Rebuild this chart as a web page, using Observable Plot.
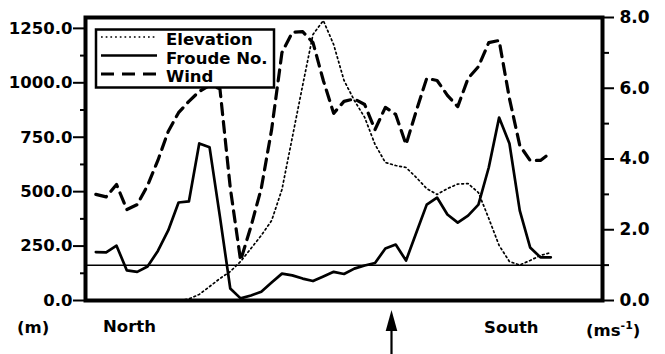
<!DOCTYPE html>
<html><head><meta charset="utf-8">
<script src="https://cdn.jsdelivr.net/npm/d3@7"></script>
<script src="https://cdn.jsdelivr.net/npm/@observablehq/plot@0.6"></script>
<style>
html,body{margin:0;padding:0;background:#fff;}
</style>
</head><body><div id="chart"></div>
<script>
// Elevation (m), left axis
const elevation = [0,0,0,0,0,0,0,0,0,7,28,64,101,133,179,239,299,367,510,749,988,1222,1286,1176,1011,919,841,717,634,620,611,565,514,487,514,535,537,496,377,253,179,163,184,207,220];
// Froude number, right axis scale
const froude = [1.37,1.36,1.55,0.85,0.81,0.96,1.40,1.98,2.77,2.80,4.44,4.33,2.37,0.34,0.06,0.14,0.25,0.51,0.76,0.71,0.62,0.55,0.68,0.81,0.75,0.90,0.99,1.06,1.47,1.58,1.13,1.92,2.71,2.91,2.43,2.20,2.40,2.71,3.76,5.17,4.44,2.54,1.50,1.22,1.22];
// Wind (m s-1), right axis
const wind = [3.00,2.93,3.28,2.57,2.71,3.25,3.96,4.78,5.31,5.63,5.91,6.08,5.99,3.19,1.13,2.09,3.17,4.83,7.01,7.58,7.60,7.29,6.22,5.29,5.63,5.70,5.54,4.83,5.46,5.26,4.41,5.37,6.28,6.22,5.80,5.48,6.28,6.61,7.29,7.35,5.71,4.38,3.96,3.96,4.18];

const leftTicks = [0,250,500,750,1000,1250];
const leftMinor = [125,375,625,875,1125];
const rightTicks = [0,2,4,6,8];
const rightMinor = [1,3,5,7];
const criticalFroude = [1];
const seriesNames = ["Elevation","Froude No.","Wind"];
const directionLabels = ["North","South"];
const leftUnit = "(m)";
const leftMax = 1300, rightMax = 8;
const k = leftMax / rightMax;

const rows = elevation.map((e, i) => ({i, elevation: e, froude: froude[i], wind: wind[i]}));
const blank = () => "";

const chart = Plot.plot({
  width: 665, height: 354,
  marginLeft: 85, marginRight: 63, marginTop: 17, marginBottom: 54,
  x: {domain: [-1, 49], axis: null},
  y: {domain: [0, leftMax], axis: null},
  style: {fontFamily: "DejaVu Sans", fontSize: "17px", color: "#000", background: "#fff"},
  marks: [
    Plot.ruleY(criticalFroude, {y: d => d * k, stroke: "#000", strokeWidth: 1.5}),
    Plot.line(rows, {x: "i", y: "elevation", stroke: "#000", strokeWidth: 1.7, strokeDasharray: "1.7,3"}),
    Plot.line(rows, {x: "i", y: d => d.froude * k, stroke: "#000", strokeWidth: 2.7}),
    Plot.line(rows, {x: "i", y: d => d.wind * k, stroke: "#000", strokeWidth: 3.2, strokeDasharray: "11,7"}),
    Plot.frame({stroke: "#000", strokeWidth: 4}),
    Plot.axisY({ticks: leftTicks, tickFormat: d3.format(".1f"), anchor: "left", tickSize: 12, tickPadding: 1, label: null, strokeWidth: 2, fontSize: 16.5, fontWeight: "bold"}),
    Plot.axisY({ticks: leftMinor, tickFormat: blank, anchor: "left", tickSize: 5, label: null, strokeWidth: 2}),
    Plot.axisY({ticks: rightTicks.map(v => v * k), tickFormat: d => (d / k).toFixed(1), anchor: "right", tickSize: 11, tickPadding: 6, label: null, strokeWidth: 2, fontSize: 17, fontWeight: "bold"}),
    Plot.axisY({ticks: rightMinor.map(v => v * k), tickFormat: blank, anchor: "right", tickSize: 6, label: null, strokeWidth: 2})
  ]
});
document.getElementById("chart").append(chart);

const svg = d3.select(chart);
const font = "DejaVu Sans";
// Legend
const lg = svg.append("g").attr("text-anchor", "start");
lg.append("rect").attr("x", 96).attr("y", 29.5).attr("width", 178).attr("height", 58)
  .attr("fill", "#fff").attr("stroke", "#000").attr("stroke-width", 2.5);
const legendStyles = [
  {dash: "1.7,3", w: 1.7},
  {dash: null, w: 2.7},
  {dash: "13,8", w: 3.2}
];
seriesNames.forEach((name, j) => {
  const cy = 37 + j * 18.5;
  lg.append("line").attr("x1", 101).attr("x2", 157).attr("y1", cy).attr("y2", cy)
    .attr("stroke", "#000").attr("stroke-width", legendStyles[j].w)
    .attr("stroke-dasharray", legendStyles[j].dash);
  lg.append("text").attr("x", 166).attr("y", cy + 8).attr("font-family", font)
    .attr("font-weight", "bold").attr("font-size", 16.5).text(name);
});
// Bottom labels
const bl = svg.append("g").attr("font-family", font).attr("font-size", 16.5)
  .attr("font-weight", "bold").attr("text-anchor", "start");
bl.append("text").attr("x", 17).attr("y", 333).text(leftUnit);
bl.append("text").attr("x", 103).attr("y", 332).text(directionLabels[0]);
bl.append("text").attr("x", 484).attr("y", 333).text(directionLabels[1]);
const ru = bl.append("text").attr("x", 586).attr("y", 336);
ru.append("tspan").text("(ms");
ru.append("tspan").attr("font-size", 11).attr("dy", -7).text("-1");
ru.append("tspan").attr("dy", 7).text(")");
// Arrow
const ax = 391.5;
svg.append("line").attr("x1", ax).attr("x2", ax).attr("y1", 354).attr("y2", 328)
  .attr("stroke", "#000").attr("stroke-width", 2.2);
svg.append("path").attr("d", `M${ax},310L${ax-5.8},331L${ax+5.8},331Z`).attr("fill", "#000");
</script>
</body></html>
